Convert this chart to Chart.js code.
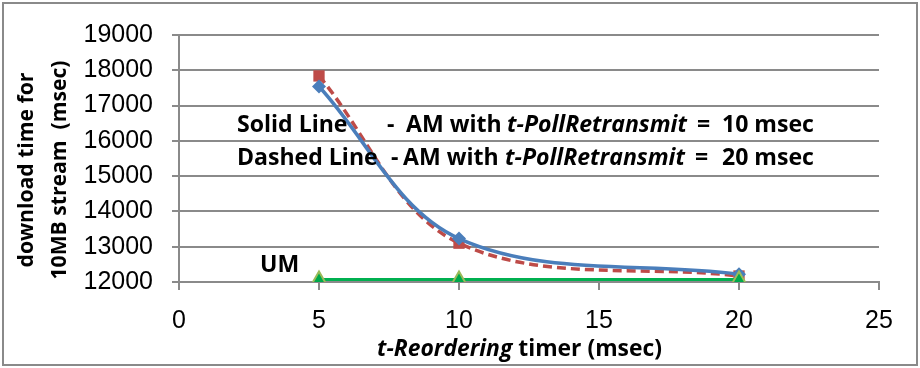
<!DOCTYPE html>
<html>
<head>
<meta charset="utf-8">
<script src="https://cdn.jsdelivr.net/npm/chart.js@4/dist/chart.umd.min.js"></script>
<style>
  html, body { margin: 0; padding: 0; background: #fff; }
  #wrap { width: 920px; height: 368px; position: relative; }
</style>
</head>
<body>
<div id="wrap"><canvas id="c" width="920" height="368"></canvas></div>
<script>
// ---- data ----
const xValues = [5, 10, 20];                  // t-Reordering timer (msec)
const amPoll10 = [17540, 13230, 12220];       // solid line
const amPoll20 = [17840, 13100, 12170];       // dashed line
const umValues = [12070, 12070, 12070];       // UM
const yTickValues = [12000, 13000, 14000, 15000, 16000, 17000, 18000, 19000];
const xTickValues = [0, 5, 10, 15, 20, 25];

const yTitleLines = ['download time for', '10MB stream  (msec)'];
const xTitleItalic = 't-Reordering';
const xTitleRest = ' timer (msec)';
const umLabel = 'UM';
const noteSolid = [['Solid Line', 'b'], ['-', 'b'], ['AM with', 'b'], ['t-PollRetransmit', 'i'], ['=', 'b'], ['10 msec', 'b']];
const noteDashed = [['Dashed Line', 'b'], ['-', 'b'], ['AM with', 'b'], ['t-PollRetransmit', 'i'], ['=', 'b'], ['20 msec', 'b']];

const pts = (ys) => xValues.map((x, i) => ({ x: x, y: ys[i] }));

const FONT = '"Open Sans", Lato, sans-serif';
const TICKFONT = '"Liberation Sans", Arial, sans-serif';

function fitSize(ctx, text, style, target) {
  ctx.font = style + ' 20px ' + FONT;
  const w = ctx.measureText(text).width;
  return 20 * target / w;
}

const textPlugin = {
  id: 'texts',
  beforeDraw(chart) {
    const ctx = chart.ctx;
    ctx.save();
    ctx.fillStyle = '#fff';
    ctx.fillRect(0, 0, chart.width, chart.height);
    ctx.restore();
  },
  afterDraw(chart) {
    const ctx = chart.ctx;
    ctx.save();
    // outer border
    ctx.strokeStyle = '#8a8a8a';
    ctx.lineWidth = 2;
    ctx.strokeRect(3, 3, 914, 362);

    ctx.fillStyle = '#000';
    ctx.textBaseline = 'middle';
    // y title
    const ys1 = fitSize(ctx, yTitleLines[0], 'bold', 195);
    const ys2 = fitSize(ctx, yTitleLines[1], 'bold', 235);
    const ysz = Math.min(ys1, ys2);
    [[27, yTitleLines[0]], [60, yTitleLines[1]]].forEach(([x, t]) => {
      ctx.save();
      ctx.translate(x, 170);
      ctx.rotate(-Math.PI / 2);
      ctx.textAlign = 'center';
      ctx.font = 'bold ' + ysz + 'px ' + FONT;
      ctx.fillText(t, 0, 0);
      ctx.restore();
    });

    // x title
    ctx.textAlign = 'left';
    ctx.font = 'italic bold 20px ' + FONT;
    let w1 = ctx.measureText(xTitleItalic).width;
    ctx.font = 'bold 20px ' + FONT;
    let w2 = ctx.measureText(xTitleRest).width;
    const xsz = 20 * 285 / (w1 + w2);
    w1 *= xsz / 20; w2 *= xsz / 20;
    const xs = 377;
    ctx.font = 'italic bold ' + xsz + 'px ' + FONT;
    ctx.fillText(xTitleItalic, xs, 349);
    ctx.font = 'bold ' + xsz + 'px ' + FONT;
    ctx.fillText(xTitleRest, xs + w1, 349);

    // notes
    const nsz = fitSize(ctx, 't-PollRetransmit', 'italic bold', 180);
    const solidX = [237, 387, 406, 507, 697, 722];
    const dashedX = [237, 391, 403, 505, 695, 722];
    const drawNote = (segs, xsArr, y) => {
      segs.forEach((s, i) => {
        ctx.font = (s[1] === 'i' ? 'italic bold ' : 'bold ') + nsz + 'px ' + FONT;
        ctx.fillText(s[0], xsArr[i], y);
      });
    };
    drawNote(noteSolid, solidX, 125);
    drawNote(noteDashed, dashedX, 158);

    // UM
    ctx.font = 'bold ' + nsz + 'px ' + FONT;
    ctx.fillText(umLabel, 260, 265);
    ctx.restore();
  }
};

new Chart(document.getElementById('c'), {
  type: 'scatter',
  data: {
    datasets: [
      {
        label: 'AM t-PollRetransmit 10 msec',
        data: pts(amPoll10),
        showLine: true,
        borderColor: '#4A7EBB',
        backgroundColor: '#4A7EBB',
        borderWidth: 3.5,
        tension: 0.35,
        pointStyle: 'rectRot',
        pointRadius: 7,
        pointBorderWidth: 0,
        order: 2
      },
      {
        label: 'AM t-PollRetransmit 20 msec',
        data: pts(amPoll20),
        showLine: true,
        borderColor: '#BE4B48',
        backgroundColor: '#BE4B48',
        borderWidth: 3.5,
        borderDash: [9, 5],
        tension: 0.35,
        pointStyle: 'rect',
        pointRadius: 8,
        pointBorderWidth: 0,
        order: 3
      },
      {
        label: 'UM',
        data: pts(umValues),
        showLine: true,
        borderColor: '#00B050',
        backgroundColor: '#00A84C',
        pointBorderColor: '#9BBB59',
        borderWidth: 3,
        tension: 0,
        pointStyle: 'triangle',
        pointRadius: 8,
        pointBorderWidth: 2,
        order: 1
      }
    ]
  },
  options: {
    responsive: false,
    animation: false,
    devicePixelRatio: 1,
    layout: { padding: { top: 35, right: 41, left: 0, bottom: 0 } },
    plugins: { legend: { display: false }, tooltip: { enabled: false } },
    scales: {
      x: {
        type: 'linear',
        min: 0, max: 25,
        afterBuildTicks(scale) { scale.ticks = xTickValues.map(v => ({ value: v })); },
        afterFit(scale) { scale.height = 86; },
        grid: { drawOnChartArea: false, drawTicks: true, tickLength: 8, color: '#8a8a8a', lineWidth: 2 },
        border: { display: true, color: '#8a8a8a', width: 2 },
        ticks: { color: '#000', font: { family: TICKFONT, size: 25 }, padding: 16, maxRotation: 0 }
      },
      y: {
        type: 'linear',
        min: 12000, max: 19000,
        afterBuildTicks(scale) { scale.ticks = yTickValues.map(v => ({ value: v })); },
        afterFit(scale) { scale.width = 179; },
        grid: { drawOnChartArea: true, drawTicks: true, tickLength: 7, color: '#8a8a8a', lineWidth: 2 },
        border: { display: true, color: '#8a8a8a', width: 2 },
        ticks: { color: '#000', font: { family: TICKFONT, size: 25 }, padding: 19, callback: v => String(v) }
      }
    }
  },
  plugins: [textPlugin]
});
</script>
</body>
</html>
